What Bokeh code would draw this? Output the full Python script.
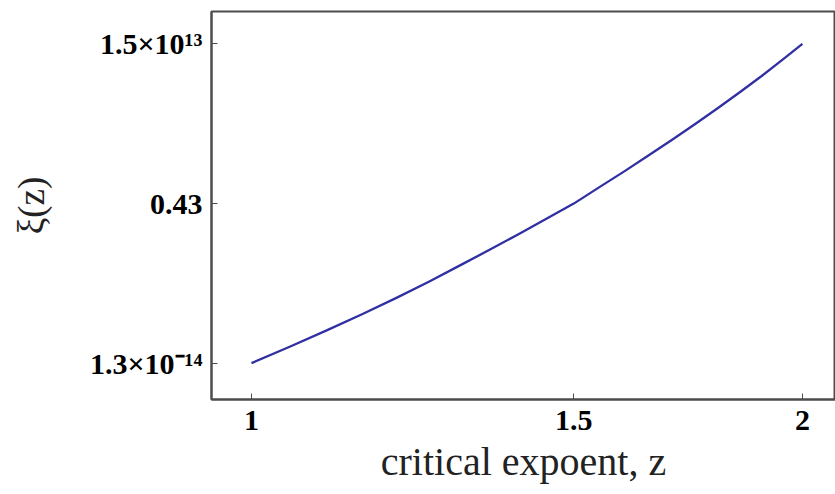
from bokeh.plotting import figure
from bokeh.models import Range1d, FixedTicker
from bokeh.embed import file_html
from bokeh.resources import INLINE

# data
z_vals = [1.00, 1.05, 1.10, 1.15, 1.20, 1.25, 1.30, 1.35, 1.40, 1.45, 1.50,
          1.55, 1.60, 1.65, 1.70, 1.75, 1.80, 1.85, 1.90, 1.95, 2.00]
xi_vals = [1.3e-14, 3.3e-13, 8.1e-12, 1.9e-10, 4.4e-9, 1.04e-7, 2.5e-6,
           5.5e-5, 1.15e-3, 2.4e-2, 0.43, 11.3, 2.56e2, 5.9e3, 1.3e5, 2.8e6,
           6.0e7, 1.3e9, 2.8e10, 6.5e11, 1.5e13]

x_ticks = [1.0, 1.5, 2.0]
x_tick_labels = ["1", "1.5", "2"]
y_ticks = [1.3e-14, 0.43, 1.5e13]
y_tick_labels = ["1.3×10⁻¹⁴", "0.43", "1.5×10¹³"]

FONT = "Liberation Serif"
FRAME = "#4d4d4d"

p = figure(frame_width=624, frame_height=388, output_backend="svg",
           toolbar_location=None,
           x_axis_type="log", y_axis_type="log",
           x_range=Range1d(10 ** -0.02185, 10 ** 0.3191),
           y_range=Range1d(10 ** -16.968, 10 ** 15.913),
           min_border_left=211, min_border_right=0, min_border_top=11,
           min_border_bottom=95)

p.line(z_vals, xi_vals, line_color="#3030a2", line_width=2.3,
       line_join="round")

p.grid.visible = False
p.background_fill_color = "white"
p.border_fill_color = "white"
p.outline_line_color = FRAME
p.outline_line_width = 2

for ax in (p.xaxis[0], p.yaxis[0]):
    ax.axis_line_color = FRAME
    ax.axis_line_width = 2
    ax.major_tick_in = 6
    ax.major_tick_out = 0
    ax.major_tick_line_color = FRAME
    ax.major_tick_line_width = 1
    ax.minor_tick_line_color = None
    ax.major_label_text_font = FONT
    ax.major_label_text_font_style = "bold"
    ax.major_label_text_font_size = "30px"
    ax.major_label_text_color = "black"
    ax.axis_label_text_font = FONT
    ax.axis_label_text_font_style = "normal"
    ax.axis_label_text_color = "#222222"

p.xaxis.axis_label_text_font_size = "40px"
p.yaxis.axis_label_text_font_size = "37px"
p.xaxis.ticker = FixedTicker(ticks=x_ticks, minor_ticks=[])
p.yaxis.ticker = FixedTicker(ticks=y_ticks, minor_ticks=[])
p.xaxis.major_label_overrides = {t: s for t, s in zip(x_ticks, x_tick_labels)}
p.yaxis.major_label_overrides = {t: s for t, s in zip(y_ticks, y_tick_labels)}

p.xaxis.axis_label = "critical expoent, z"
p.yaxis.axis_label = "ξ(z)"
p.xaxis.major_label_standoff = 11
p.yaxis.major_label_standoff = 9
p.xaxis.axis_label_standoff = 6
p.yaxis.axis_label_standoff = 35

open("out.html", "w").write(file_html(p, INLINE))
